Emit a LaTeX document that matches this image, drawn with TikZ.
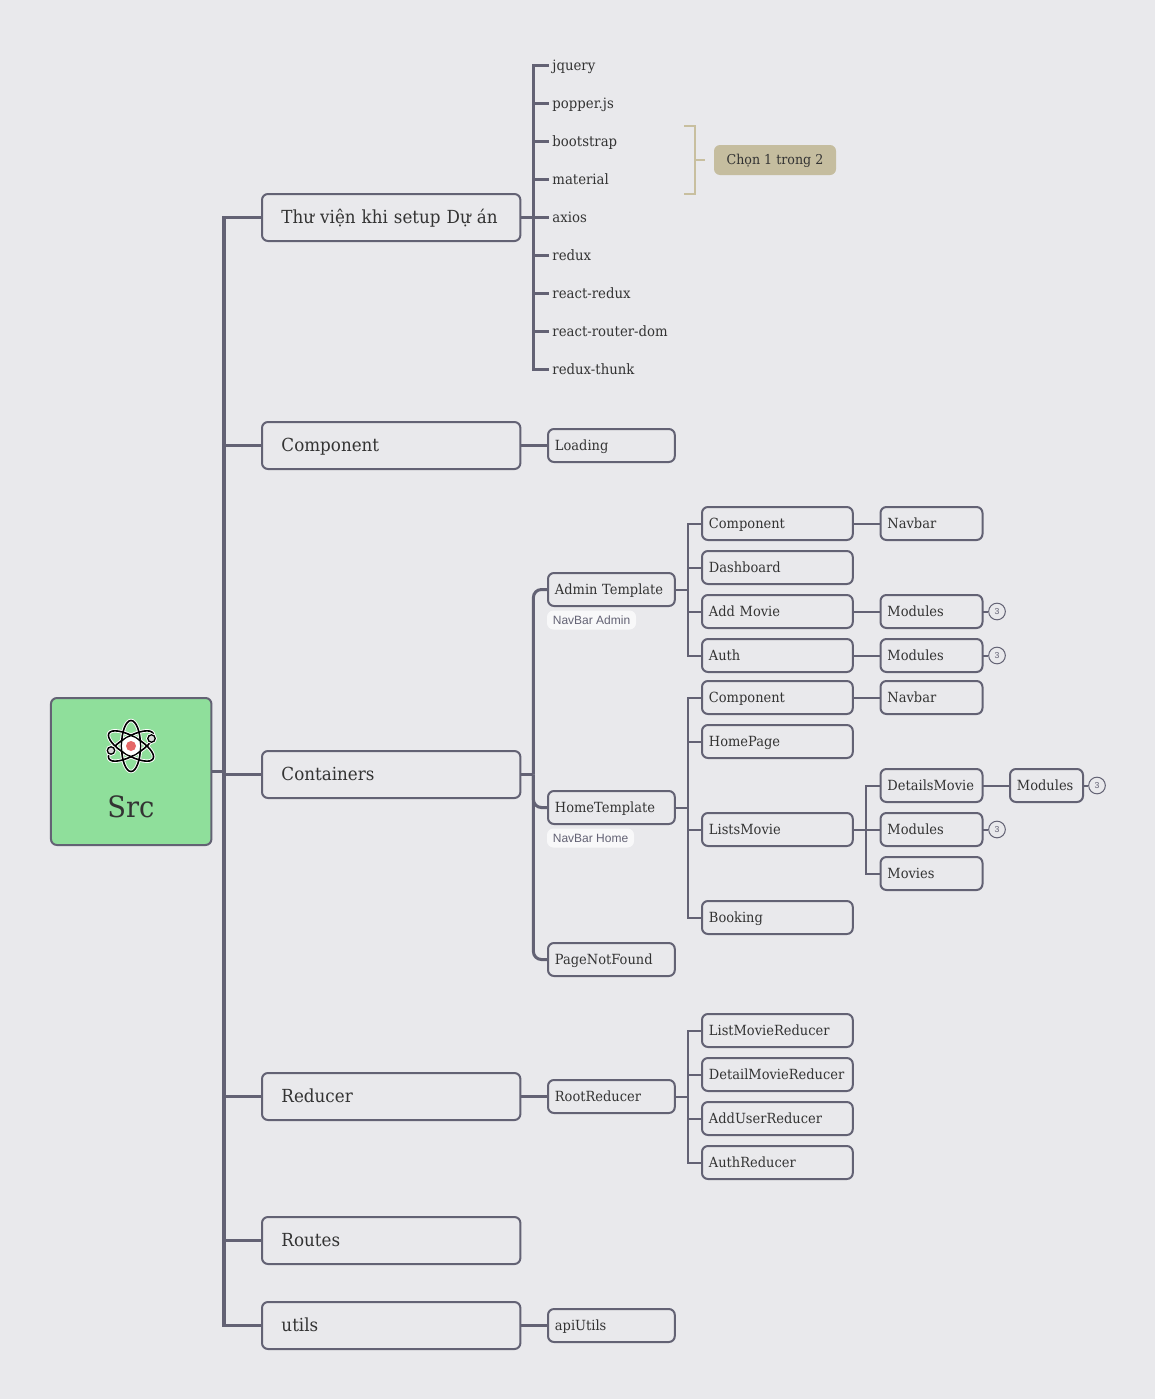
\documentclass[tikz,border=0pt]{standalone}
\usepackage{fontspec}
\setmainfont[FakeStretch=0.93]{DejaVu Serif}
\newfontfamily\notefont{Liberation Sans}
\usetikzlibrary{positioning,calc}
\definecolor{bgc}{HTML}{E9E9EC}
\definecolor{linec}{HTML}{636274}
\definecolor{txt}{HTML}{333333}
\definecolor{rootc}{HTML}{8FDF9B}
\definecolor{notec}{HTML}{C5BD9F}
\definecolor{brk}{HTML}{C8BF9F}
\tikzset{
 basebox/.style={draw=linec,line width=1.5pt,rounded corners=4.5pt,fill=bgc,anchor=west,outer sep=0pt,text=txt,align=left},
 bigbox/.style={basebox,minimum height=35.25pt,text width=164.6pt,inner xsep=14.6pt,text height=12pt,text depth=3.2pt,font=\fontsize{13.5}{16}\selectfont},
 midbox/.style={basebox,minimum height=24.75pt,text width=84.7pt,inner xsep=5.2pt,text height=9pt,text depth=2.2pt,font=\fontsize{10.5}{13}\selectfont},
 wideb/.style={midbox,text width=102.7pt},
 smallb/.style={midbox,text width=66.1pt},
 tinyb/.style={midbox,text width=44.35pt},
 leaf/.style={anchor=west,inner xsep=2.6pt,inner ysep=0pt,outer sep=0pt,text=txt,text height=9.5pt,text depth=1pt,font=\fontsize{10.7}{13}\selectfont},
 countb/.style={draw=linec,circle,line width=.75pt,minimum size=12.5pt,inner sep=0pt,fill=bgc,text=linec,font=\notefont\fontsize{6.5}{8}\selectfont},
 tagb/.style={draw=white!70!bgc,fill=white!70!bgc,rounded corners=4.5pt,line width=.75pt,anchor=west,inner xsep=4pt,minimum height=13.5pt,inner ysep=0pt,text=linec,font=\notefont\fontsize{9}{10}\selectfont},
 l1/.style={draw=linec,line width=2.4pt},
 l2/.style={draw=linec,line width=2.25pt},
 l3/.style={draw=linec,line width=1.5pt},
}
\begin{document}
\begin{tikzpicture}[x=0.75pt,y=-0.75pt]
\useasboundingbox (0,0) rectangle (1155,1399);
\fill[bgc] (0,0) rectangle (1155,1399);

% root
\node[draw=linec,line width=1.5pt,fill=rootc,rounded corners=4.5pt,minimum width=120.4pt,minimum height=110.25pt,outer sep=0pt] (root) at (131.2,771.5) {};
\node[text=txt,inner sep=0pt,font=\fontsize{22}{26}\selectfont] (srclabel) at (131,807) {Src};
% atom icon
\begin{scope}[shift={(131,746)}]
 \foreach \a in {0,60,-60}{\draw[white,line width=2.6pt,rotate=\a] (0,0) ellipse (9.5 and 25.5);}
 \foreach \a in {0,60,-60}{\draw[black,line width=1.2pt,rotate=\a] (0,0) ellipse (9.5 and 25.5);}
 \fill[white] (0,0) circle (9);
 \fill[red!55!white!90!black] (0,0) circle (5);
 \draw[black,line width=1pt,fill=white!70!gray,preaction={draw=white,line width=2.4pt}] (20.5,-7.5) circle (3.7);
 \draw[black,line width=1pt,fill=white!70!gray,preaction={draw=white,line width=2.4pt}] (-20,4.5) circle (3.7);
\end{scope}

% level 1
\node[bigbox] (lib) at (262,217.5) {Thư viện khi setup Dự án};
\node[bigbox] (comp) at (262,445.5) {Component};
\node[bigbox] (cont) at (262,774.5) {Containers};
\node[bigbox] (redu) at (262,1096.5) {Reducer};
\node[bigbox] (rout) at (262,1240.5) {Routes};
\node[bigbox] (util) at (262,1325.5) {utils};
\foreach \c in {lib,comp,cont,redu,rout,util}{\draw[l1] (root.east) -- ++(12.6,0) |- (\c.west);}

% libraries
\foreach \n/\t/\y in {a/jquery/65,b/popper.js/103,c/bootstrap/141,d/material/179,e/axios/217,f/redux/255,g/react-redux/293,h/react-router-dom/331,i/redux-thunk/369}{
 \node[leaf] (lib\n) at (549,\y) {\t};
 \draw[l2] (lib.east) -- ++(13,0) |- (lib\n.west);
}
\coordinate (brt) at (684,126);
\coordinate (brb) at (684,194);
\coordinate (brm) at (695,160);
\coordinate (brs) at (705,160);
\node[fill=notec,rounded corners=4.5pt,text=txt,minimum width=91.5pt,minimum height=22.5pt,inner sep=0pt,text height=8.8pt,text depth=2pt,font=\fontsize{10.2}{12}\selectfont] (note) at (775,160) {Chọn 1 trong 2};
\draw[brk,line width=1.5pt] (brt) -| (brm) |- (brb);
\draw[brk,line width=1.5pt] (brm) -- (brs);

% Component
\node[midbox] (load) at (548,445.5) {Loading};
\draw[l2] (comp.east) -- (load.west);

% Containers
\node[midbox] (admin) at (548,589.5) {Admin Template};
\node[midbox] (home) at (548,807.5) {HomeTemplate};
\node[midbox] (nf) at (548,959.5) {PageNotFound};
\coordinate (ct) at ($(cont.east)+(13,0)$);
\draw[l2] (cont.east) -- (ct);
\foreach \c in {admin,home,nf}{\draw[l2,rounded corners=6pt] (ct) |- (\c.west);}
\node[tagb] (tagA) at (547,620) {NavBar Admin};
\node[tagb] (tagH) at (547,838) {NavBar Home};

% Admin children
\node[wideb] (ac) at (702,523.5) {Component};
\node[wideb] (ad) at (702,567.5) {Dashboard};
\node[wideb] (am) at (702,611.5) {Add Movie};
\node[wideb] (au) at (702,655.5) {Auth};
\foreach \c in {ac,ad,am,au}{\draw[l3] (admin.east) -- ++(13,0) |- (\c.west);}
\node[smallb] (an) at (880.5,523.5) {Navbar};
\draw[l3] (ac.east) -- (an.west);
\node[smallb] (amm) at (880.5,611.5) {Modules};
\draw[l3] (am.east) -- (amm.west);
\node[smallb] (aum) at (880.5,655.5) {Modules};
\draw[l3] (au.east) -- (aum.west);
\node[countb] (c1) at (997,611.5) {3};
\node[countb] (c2) at (997,655.5) {3};
\draw[l3] (amm.east) -- (c1.west);
\draw[l3] (aum.east) -- (c2.west);

% Home children
\node[wideb] (hc) at (702,697.5) {Component};
\node[wideb] (hp) at (702,741.5) {HomePage};
\node[wideb] (hl) at (702,829.5) {ListsMovie};
\node[wideb] (hb) at (702,917.5) {Booking};
\foreach \c in {hc,hp,hl,hb}{\draw[l3] (home.east) -- ++(13,0) |- (\c.west);}
\node[smallb] (hn) at (880.5,697.5) {Navbar};
\draw[l3] (hc.east) -- (hn.west);
\node[smallb] (ld) at (880.5,785.5) {DetailsMovie};
\node[smallb] (lm) at (880.5,829.5) {Modules};
\node[smallb] (lv) at (880.5,873.5) {Movies};
\foreach \c in {ld,lm,lv}{\draw[l3] (hl.east) -- ++(13.5,0) |- (\c.west);}
\node[tinyb] (ldm) at (1010,785.5) {Modules};
\draw[l3] (ld.east) -- (ldm.west);
\node[countb] (c3) at (1097,785.5) {3};
\draw[l3] (ldm.east) -- (c3.west);
\node[countb] (c4) at (997,829.5) {3};
\draw[l3] (lm.east) -- (c4.west);

% Reducer
\node[midbox] (rr) at (548,1096.5) {RootReducer};
\draw[l2] (redu.east) -- (rr.west);
\node[wideb] (r1) at (702,1030.5) {ListMovieReducer};
\node[wideb] (r2) at (702,1074.5) {DetailMovieReducer};
\node[wideb] (r3) at (702,1118.5) {AddUserReducer};
\node[wideb] (r4) at (702,1162.5) {AuthReducer};
\foreach \c in {r1,r2,r3,r4}{\draw[l3] (rr.east) -- ++(13,0) |- (\c.west);}

% utils
\node[midbox] (api) at (548,1325.5) {apiUtils};
\draw[l2] (util.east) -- (api.west);
\end{tikzpicture}
\end{document}
